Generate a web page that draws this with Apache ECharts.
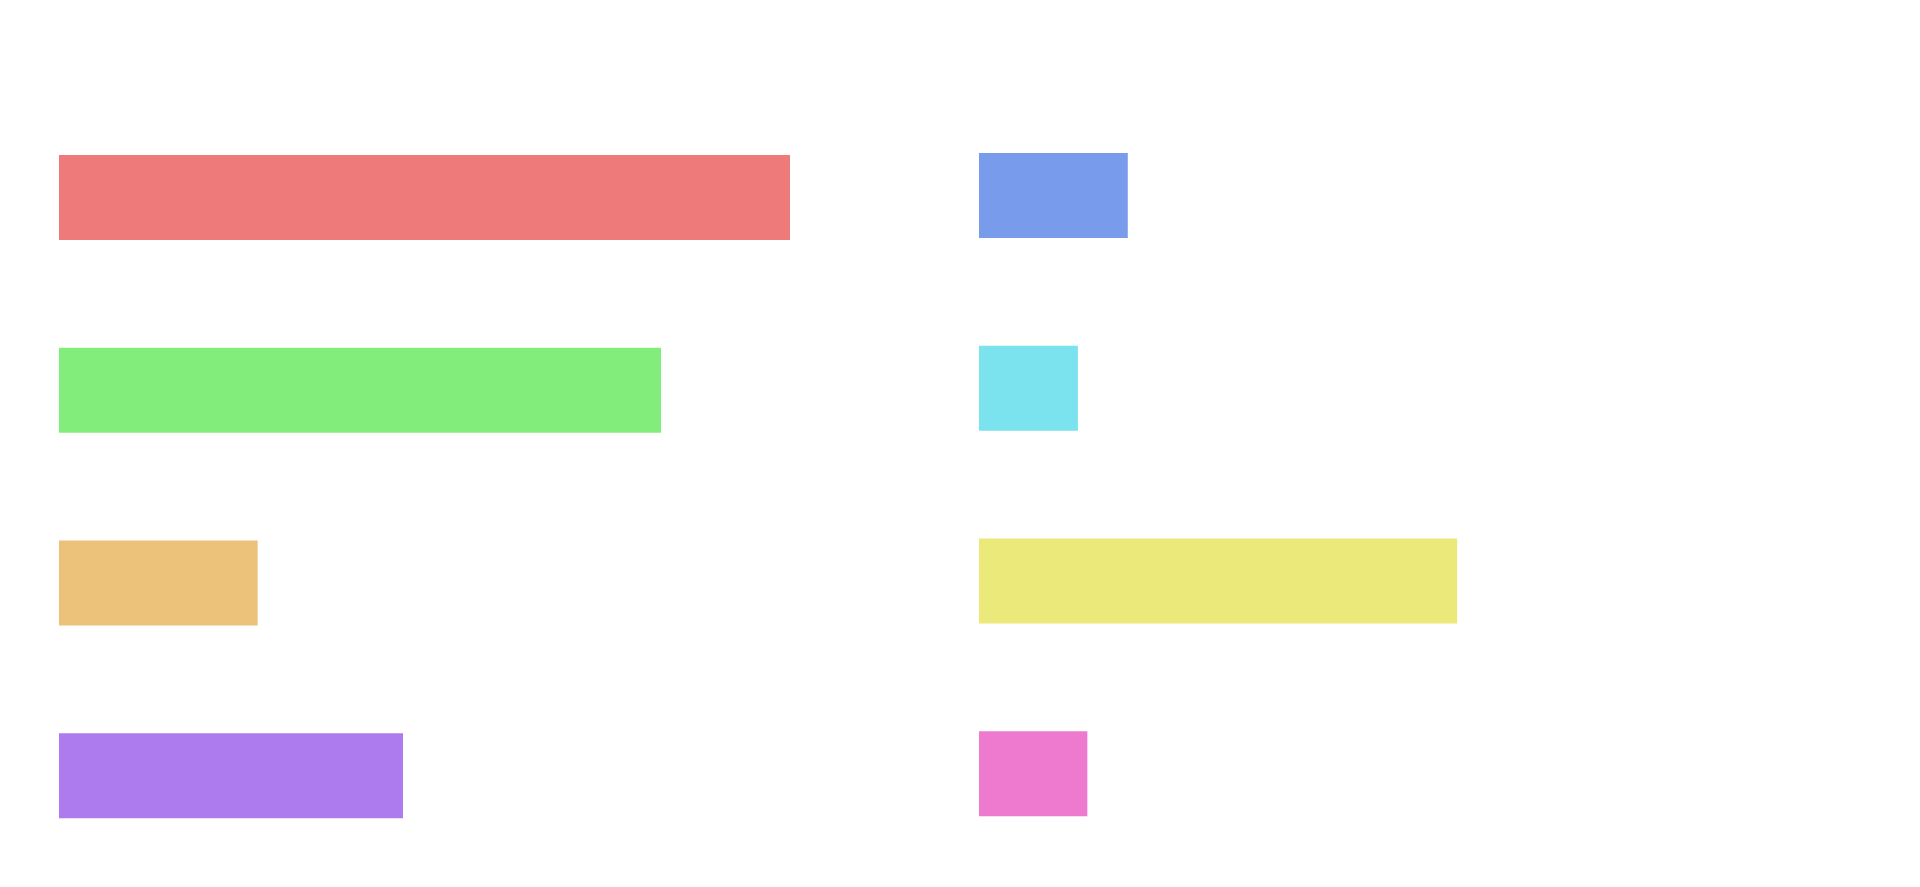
<!DOCTYPE html>
<html>
<head>
<meta charset="utf-8">
<script src="https://cdn.jsdelivr.net/npm/echarts@6/dist/echarts.min.js"></script>
<style>
html,body{margin:0;padding:0;background:#fff;}
#chart{width:1920px;height:887px;}
</style>
</head>
<body>
<div id="chart"></div>
<script>
const leftCategories = ['A', 'B', 'C', 'D'];
const leftValues = [85, 70, 23.1, 40];
const rightCategories = ['E', 'F', 'G', 'H'];
const rightValues = [17.3, 11.5, 55.6, 12.6];
const leftColors = ['#ee7a7a', '#82ed7a', '#ecc27a', '#ad7bed'];
const rightColors = ['#789bec', '#7ae3ee', '#ebe97a', '#ee7acf'];

const chart = echarts.init(document.getElementById('chart'));
const hiddenAxis = {show: false};
chart.setOption({
  animation: false,
  backgroundColor: '#ffffff',
  grid: [
    {left: 59, top: 101, width: 860, height: 771},
    {left: 979, top: 99, width: 860, height: 771}
  ],
  xAxis: [
    {type: 'value', gridIndex: 0, min: 0, max: 100, show: false},
    {type: 'value', gridIndex: 1, min: 0, max: 100, show: false}
  ],
  yAxis: [
    {type: 'category', gridIndex: 0, data: leftCategories, inverse: true, show: false},
    {type: 'category', gridIndex: 1, data: rightCategories, inverse: true, show: false}
  ],
  series: [
    {
      type: 'bar', xAxisIndex: 0, yAxisIndex: 0, barWidth: 85,
      data: leftValues.map((v, i) => ({value: v, itemStyle: {color: leftColors[i]}}))
    },
    {
      type: 'bar', xAxisIndex: 1, yAxisIndex: 1, barWidth: 85,
      data: rightValues.map((v, i) => ({value: v, itemStyle: {color: rightColors[i]}}))
    }
  ]
});
</script>
</body>
</html>
